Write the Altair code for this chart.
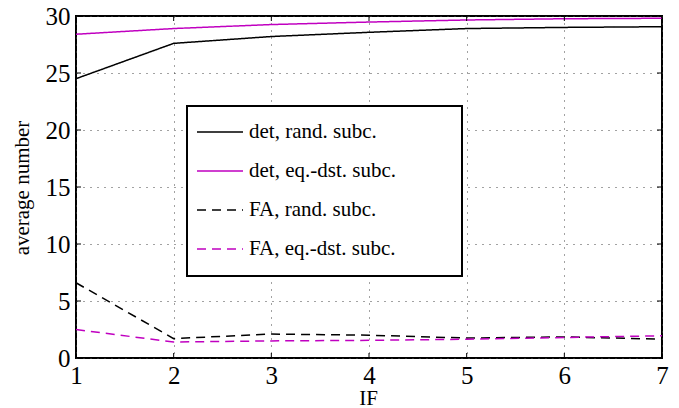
import altair as alt
import pandas as pd

x_vals = [1, 2, 3, 4, 5, 6, 7]
det_rand = [24.5, 27.6, 28.2, 28.57, 28.9, 29.0, 29.06]
det_eq = [28.4, 28.9, 29.25, 29.47, 29.65, 29.76, 29.8]
fa_rand = [6.6, 1.7, 2.1, 2.0, 1.75, 1.85, 1.65]
fa_eq = [2.5, 1.4, 1.5, 1.55, 1.65, 1.8, 1.95]
series_names = ["det, rand. subc.", "det, eq.-dst. subc.", "FA, rand. subc.", "FA, eq.-dst. subc."]
series_colors = ["#000000", "#c000c0", "#000000", "#c000c0"]
series_dash = [[1, 0], [1, 0], [9, 6], [9, 6]]
x_ticks = [1, 2, 3, 4, 5, 6, 7]
y_ticks = [0, 5, 10, 15, 20, 25, 30]

rows = []
for name, vals in zip(series_names, [det_rand, det_eq, fa_rand, fa_eq]):
    for xv, yv in zip(x_vals, vals):
        rows.append({"IF": xv, "value": yv, "series": name})
df = pd.DataFrame(rows)

W, H = 586, 342
FONT = "Liberation Serif"

xscale = alt.Scale(domain=[1, 7], nice=False)
yscale = alt.Scale(domain=[0, 30], nice=False)

base_x = alt.X("IF:Q", scale=xscale, axis=alt.Axis(
    values=x_ticks, format="d", title="IF", grid=True, gridDash=[1, 6], gridColor="#444444",
    gridWidth=1, ticks=False, domain=False, labelPadding=5, labelFontSize=25,
    labelFont=FONT, titleFont=FONT, titleFontSize=21, titleFontWeight="normal",
    labelColor="black", titleColor="black", titleX=292, titleY=46,
    titleBaseline="alphabetic", labelFlush=False))
base_y = alt.Y("value:Q", scale=yscale, axis=alt.Axis(
    values=y_ticks, format="d", title="average number", grid=True, gridDash=[1, 6],
    gridColor="#444444", gridWidth=1, ticks=False, domain=False, labelPadding=6,
    labelFontSize=25, labelFont=FONT, titleFont=FONT, titleFontSize=21,
    titleFontWeight="normal", labelColor="black", titleColor="black",
    titleX=-48, titleY=171.5, titleAngle=-90, titleBaseline="alphabetic",
    titleAlign="center", labelFlush=False))

legend_opts = dict(title=None, orient="none", legendX=120, legendY=92,
                   symbolType="stroke", symbolSize=2116, symbolStrokeWidth=1.5,
                   labelFont=FONT, labelFontSize=21, labelOffset=5, padding=0,
                   rowPadding=5, labelColor="black")

lines = alt.Chart(df).mark_line(strokeWidth=1.5).encode(
    x=base_x,
    y=base_y,
    color=alt.Color("series:N", scale=alt.Scale(domain=series_names, range=series_colors),
                    legend=alt.Legend(**legend_opts)),
    strokeDash=alt.StrokeDash("series:N", scale=alt.Scale(domain=series_names, range=series_dash),
                              legend=alt.Legend(**legend_opts)),
)

legend_box = alt.Chart(alt.Data(values=[{"a": 1}])).mark_rect(
    fill="white", stroke="black", strokeWidth=2
).encode(x=alt.value(111), x2=alt.value(386), y=alt.value(90), y2=alt.value(260))

xt = pd.DataFrame({"t": x_ticks})
yt = pd.DataFrame({"t": y_ticks})
tick_bottom = alt.Chart(xt).mark_rule(color="black", strokeWidth=1).encode(
    x=alt.X("t:Q", scale=xscale), y=alt.value(H), y2=alt.value(H - 5))
tick_top = alt.Chart(xt).mark_rule(color="black", strokeWidth=1).encode(
    x=alt.X("t:Q", scale=xscale), y=alt.value(0), y2=alt.value(5))
tick_left = alt.Chart(yt).mark_rule(color="black", strokeWidth=1).encode(
    y=alt.Y("t:Q", scale=yscale), x=alt.value(0), x2=alt.value(5))
tick_right = alt.Chart(yt).mark_rule(color="black", strokeWidth=1).encode(
    y=alt.Y("t:Q", scale=yscale), x=alt.value(W), x2=alt.value(W - 5))

chart = alt.layer(lines, legend_box, tick_bottom, tick_top, tick_left, tick_right).properties(
    width=W, height=H,
    autosize=alt.AutoSizeParams(type="none"),
    padding={"left": 76, "top": 16, "right": 17, "bottom": 50},
    background="white",
).configure(font=FONT).configure_view(stroke="black", strokeWidth=2)

chart.save("out.html", embed_options={"renderer": "svg", "actions": False})
